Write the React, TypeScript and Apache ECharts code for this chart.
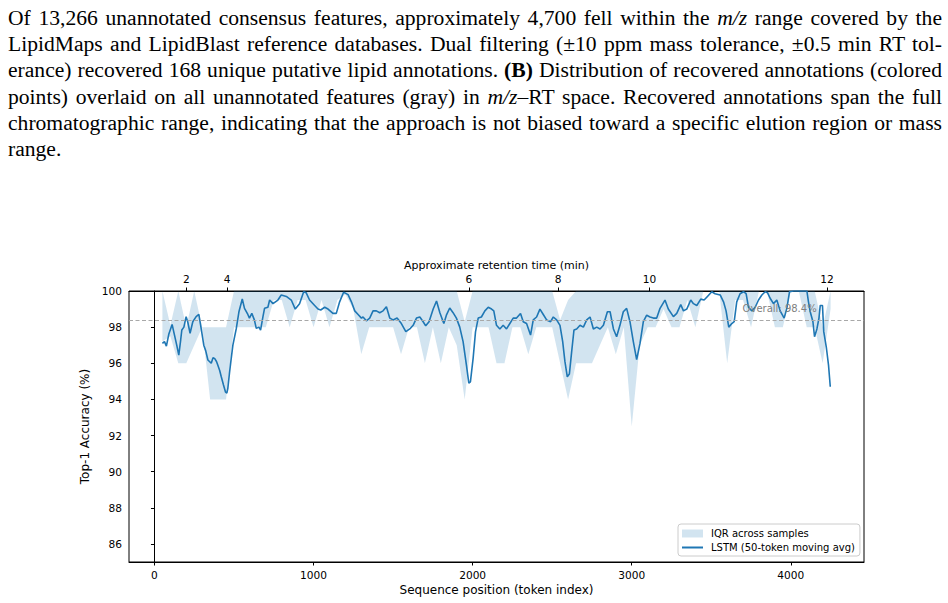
import React, { useEffect, useRef } from 'react';
import * as echarts from 'echarts';

// ---- IQR band (sampled every 50 tokens) ----
const bandTokens = [
  50, 100, 150, 200, 250, 300, 350, 400, 450, 500,
  550, 600, 650, 700, 750, 800, 850, 900, 950, 1000,
  1050, 1100, 1150, 1200, 1250, 1300, 1350, 1400, 1450, 1500,
  1550, 1600, 1650, 1700, 1750, 1800, 1850, 1900, 1950, 2000,
  2050, 2100, 2150, 2200, 2250, 2300, 2350, 2400, 2450, 2500,
  2550, 2600, 2650, 2700, 2750, 2800, 2850, 2900, 2950, 3000,
  3050, 3100, 3150, 3200, 3250, 3300, 3350, 3400, 3450, 3500,
  3550, 3600, 3650, 3700, 3750, 3800, 3850, 3900, 3950, 4000,
  4050, 4100, 4150, 4200, 4250,
];
const bandLower = [
  97.2, 97.5, 96, 96, 97, 98, 94, 94, 94, 98,
  98, 98, 98, 98, 99.5, 99.5, 98, 99.5, 99.5, 98,
  99.5, 98, 99.5, 99.8, 99, 96.5, 98, 98, 98, 98,
  96.5, 98, 98, 96, 98, 96, 98, 97, 94, 98,
  98, 98, 96, 96, 98, 98, 96.5, 98, 98, 98,
  96, 94, 96, 96, 96, 97, 98, 96.5, 98, 92.5,
  97, 98, 98, 99, 98, 98, 99.5, 98, 100, 100,
  100, 96, 99.5, 99.5, 98, 100, 100, 98, 98, 100,
  100, 98, 98, 96, 99,
];
const bandUpper = [
  100, 98.1, 100, 98, 100, 98, 98, 98, 98, 100,
  100, 100, 100, 100, 100, 100, 100, 100, 100, 100,
  100, 100, 100, 100, 100, 100, 100, 100, 100, 100,
  100, 100, 100, 100, 100, 100, 100, 100, 98.3, 100,
  100, 100, 100, 100, 100, 100, 100, 100, 100, 100,
  98.4, 99.5, 100, 100, 100, 100, 100, 100, 100, 100,
  100, 100, 100, 100, 100, 100, 100, 100, 100, 100,
  100, 100, 100, 100, 100, 100, 100, 100, 100, 100,
  100, 100, 100, 98, 100,
];

// ---- LSTM 50-token moving average ----
const lineTokens = [
  50, 63, 75, 90, 111, 126, 140, 153, 165, 172, 185, 199, 209, 224, 241, 262, 279, 294, 310, 322,
  336, 357, 368, 378, 390, 398, 410, 420, 434, 447, 455, 461, 472, 483, 493, 514, 531, 552, 566, 587,
  597, 612, 628, 640, 657, 667, 682, 692, 713, 724, 745, 776, 797, 829, 860, 885, 912, 938, 954, 975,
  1007, 1028, 1045, 1070, 1091, 1122, 1143, 1164, 1189, 1217, 1238, 1259, 1280, 1301, 1311, 1332, 1353, 1374, 1395, 1416,
  1437, 1458, 1479, 1500, 1525, 1552, 1580, 1605, 1626, 1647, 1668, 1689, 1705, 1726, 1752, 1773, 1794, 1819, 1835, 1856,
  1877, 1898, 1919, 1940, 1961, 1976, 1986, 2003, 2018, 2035, 2055, 2077, 2098, 2119, 2133, 2150, 2171, 2192, 2213, 2234,
  2255, 2276, 2301, 2318, 2339, 2364, 2381, 2402, 2423, 2444, 2465, 2490, 2507, 2528, 2549, 2566, 2580, 2595, 2608, 2622,
  2637, 2654, 2675, 2696, 2717, 2738, 2759, 2780, 2801, 2822, 2847, 2864, 2885, 2905, 2926, 2947, 2968, 2989, 3010, 3031,
  3052, 3073, 3094, 3115, 3136, 3157, 3178, 3209, 3230, 3262, 3283, 3308, 3325, 3346, 3371, 3388, 3409, 3434, 3455, 3476,
  3503, 3524, 3556, 3577, 3593, 3610, 3629, 3644, 3660, 3681, 3702, 3719, 3734, 3755, 3776, 3797, 3818, 3839, 3854, 3870,
  3891, 3912, 3933, 3958, 3975, 3992, 4017, 4050, 4101, 4111, 4122, 4139, 4149, 4164, 4177, 4185, 4199, 4207, 4223, 4237,
  4248,
];
const lineValues = [
  97.1, 97.2, 96.95, 97.6, 98.15, 97.56, 97.0, 96.45, 97.3, 97.84, 98.0, 98.58, 98.3, 97.66, 98.3, 98.58, 98.7, 97.9, 97.0, 96.7,
  96.18, 96.0, 96.3, 96.27, 96.1, 95.9, 95.6, 95.25, 94.8, 94.4, 94.35, 94.6, 95.5, 96.3, 97.0, 97.9, 98.85, 99.56, 99.04, 98.7,
  98.5, 98.76, 98.4, 97.93, 98.0, 97.84, 98.58, 99.04, 99.1, 99.5, 99.3, 99.5, 99.78, 99.7, 99.5, 99.0, 99.3, 99.96, 99.9, 99.5,
  99.2, 99.0, 98.95, 99.1, 99.0, 98.76, 98.76, 99.4, 99.93, 99.8, 99.4, 98.9, 98.7, 98.5, 98.56, 98.35, 98.5, 98.9, 98.9, 98.8,
  98.9, 99.13, 98.5, 98.4, 98.5, 98.2, 97.75, 97.9, 98.1, 98.5, 98.56, 98.3, 98.07, 98.3, 99.0, 99.45, 98.8, 98.2, 98.66, 99.06,
  98.8, 98.5, 98.0, 97.2, 95.9, 94.9, 94.97, 96.27, 97.74, 98.5, 98.56, 98.9, 99.1, 99.0, 98.9, 98.1, 97.9, 98.1, 97.9, 98.2,
  98.5, 98.5, 98.76, 98.3, 98.2, 97.56, 98.4, 98.56, 99.0, 98.7, 98.4, 98.3, 98.56, 98.4, 98.1, 97.2, 96.1, 95.25, 95.4, 96.6,
  97.84, 97.9, 98.1, 98.0, 98.4, 98.56, 97.9, 98.0, 97.9, 98.1, 98.85, 98.85, 97.9, 97.47, 98.1, 98.85, 99.04, 98.3, 97.2, 96.2,
  97.1, 98.3, 98.66, 98.56, 98.5, 98.5, 99.04, 99.5, 99.0, 98.58, 98.76, 99.25, 98.9, 99.0, 99.5, 99.3, 99.2, 99.55, 99.5, 99.7,
  99.96, 99.85, 99.78, 99.4, 98.9, 98.0, 98.2, 98.3, 99.4, 99.85, 99.96, 99.85, 99.1, 98.9, 99.1, 99.5, 99.78, 99.96, 99.9, 99.6,
  99.3, 99.5, 98.9, 98.5, 99.04, 99.96, 100, 100, 100, 99.4, 98.85, 98.3, 97.47, 97.9, 98.5, 99.2, 99.2, 97.75, 96.9, 95.9,
  94.7,
];

// ---- axes ----
const xTicks = [0, 1000, 2000, 3000, 4000];
const yTicks = [86, 88, 90, 92, 94, 96, 98, 100];
const rtTickTokens = [201, 457, 1976, 2538, 3111, 4227];
const rtTickLabels = ['2', '4', '6', '8', '10', '12'];
const overallAccuracy = 98.4;
const overallLabelAt = [3697, 99.05];

const FONT = 'DejaVu Sans';
const BLUE = '#1f77b4';
const BAND = 'rgba(31,119,180,0.2)';
const TICK_FS = 10.6;
const TOP_NAME_FS = 11;
const NAME_FS = 12;

function Chart() {
  const ref = useRef<HTMLDivElement>(null);
  useEffect(() => {
    const chart = echarts.init(ref.current!, null, { renderer: 'svg' });
    const lineData = lineTokens.map((t, i) => [t, lineValues[i]]);
    const axisCommon = {
      type: 'value',
      min: -160,
      max: 4460,
      splitLine: { show: false },
      axisLine: { show: true, lineStyle: { color: '#000', width: 1 } },
    };
    chart.setOption({
      animation: false,
      textStyle: { fontFamily: FONT },
      grid: {
        left: 129, top: 291, width: 735, height: 271,
        show: true, borderColor: '#000', borderWidth: 1, backgroundColor: 'transparent',
        containLabel: false,
      },
      xAxis: [
        {
          ...axisCommon,
          position: 'bottom',
          axisTick: { show: true, inside: false, length: 3.5, customValues: xTicks, lineStyle: { color: '#000', width: 1 } },
          axisLabel: {
            customValues: xTicks, margin: 7, fontSize: TICK_FS, color: '#000', fontFamily: FONT,
            formatter: (v: number) => String(v),
          },
          name: 'Sequence position (token index)',
          nameLocation: 'middle',
          nameGap: 22,
          nameTextStyle: { fontSize: NAME_FS, color: '#000', fontFamily: FONT },
        },
        {
          ...axisCommon,
          position: 'top',
          axisTick: { show: true, inside: false, length: 3.5, customValues: rtTickTokens, lineStyle: { color: '#000', width: 1 } },
          axisLabel: {
            customValues: rtTickTokens,
            margin: 7,
            fontSize: TICK_FS,
            color: '#000',
            fontFamily: FONT,
            formatter: (v: number) => {
              const idx = rtTickTokens.indexOf(v);
              return idx >= 0 ? rtTickLabels[idx] : '';
            },
          },
          name: 'Approximate retention time (min)',
          nameLocation: 'middle',
          nameGap: 20,
          nameTextStyle: { fontSize: TOP_NAME_FS, color: '#000', fontFamily: FONT },
        },
      ],
      yAxis: {
        type: 'value',
        min: 85,
        max: 100,
        splitLine: { show: false },
        axisLine: { show: true, lineStyle: { color: '#000', width: 1 } },
        axisTick: { show: true, inside: false, length: 3.5, customValues: yTicks, lineStyle: { color: '#000', width: 1 } },
        axisLabel: {
          customValues: yTicks, margin: 7, fontSize: TICK_FS, color: '#000', fontFamily: FONT,
          formatter: (v: number) => String(v),
        },
        name: 'Top-1 Accuracy (%)',
        nameLocation: 'middle',
        nameRotate: 90,
        nameGap: 27,
        nameTextStyle: { fontSize: NAME_FS, color: '#000', fontFamily: FONT },
      },
      legend: {
        orient: 'vertical',
        left: 678,
        top: 524,
        padding: [4, 5, 3, 3],
        itemGap: 3,
        itemWidth: 21,
        itemHeight: 8,
        backgroundColor: 'rgba(255,255,255,0.8)',
        borderColor: '#cccccc',
        borderWidth: 1,
        borderRadius: 3,
        selectedMode: false,
        textStyle: { fontFamily: FONT, fontSize: 10, color: '#000', padding: [0, 0, 0, 3], lineHeight: 11 },
        data: [
          { name: 'IQR across samples', icon: 'rect', itemStyle: { color: BAND, borderWidth: 0 } },
          { name: 'LSTM (50-token moving avg)', itemStyle: { opacity: 0 } },
        ],
      },
      series: [
        {
          name: 'IQR across samples',
          type: 'custom',
          xAxisIndex: 0,
          data: [[bandTokens[0], bandLower[0]]],
          silent: true,
          clip: true,
          z: 1,
          itemStyle: { color: BAND },
          encode: { x: 0, y: 1 },
          renderItem: (_params: any, api: any) => {
            const pts: number[][] = [];
            for (let i = 0; i < bandTokens.length; i++) pts.push(api.coord([bandTokens[i], bandUpper[i]]));
            for (let i = bandTokens.length - 1; i >= 0; i--) pts.push(api.coord([bandTokens[i], bandLower[i]]));
            return {
              type: 'polygon',
              shape: { points: pts },
              style: { fill: BAND, stroke: 'none' },
            };
          },
        },
        {
          name: 'overall',
          type: 'line',
          xAxisIndex: 0,
          data: [],
          silent: true,
          z: 2,
          markLine: {
            silent: true,
            symbol: 'none',
            label: { show: false },
            lineStyle: { color: '#a8a8a8', type: [4, 2.5], width: 1 },
            data: [{ yAxis: overallAccuracy }],
          },
          markPoint: {
            silent: true,
            symbol: 'circle',
            symbolSize: 0,
            label: {
              show: true,
              position: 'right',
              distance: 0,
              formatter: 'Overall: ' + overallAccuracy + '%',
              color: '#808080',
              fontSize: 10,
              fontFamily: FONT,
            },
            data: [{ coord: overallLabelAt }],
          },
        },
        {
          name: 'LSTM (50-token moving avg)',
          type: 'line',
          xAxisIndex: 0,
          data: lineData,
          symbol: 'none',
          showSymbol: false,
          lineStyle: { color: BLUE, width: 1.6 },
          itemStyle: { color: BLUE },
          z: 3,
        },
      ],
    });
    return () => chart.dispose();
  }, []);
  return <div ref={ref} style={{ position: 'absolute', left: 0, top: 0, width: 948, height: 603 }} />;
}

const lineStyleBase: React.CSSProperties = {
  position: 'absolute',
  left: 8,
  width: 934,
  fontFamily: '"Liberation Serif", "Times New Roman", serif',
  fontSize: 21.6,
  lineHeight: '26px',
  color: '#000',
  textAlign: 'justify',
  textAlignLast: 'justify',
  whiteSpace: 'normal',
};
const baselines = [25, 51.3, 77.6, 103.9, 130.2, 156.5];
const topOf = (i: number) => baselines[i] - 20.3;

function Paragraph() {
  return (
    <>
      <div style={{ ...lineStyleBase, top: topOf(0) }}>
        Of 13,266 unannotated consensus features, approximately 4,700 fell within the <i>m/z</i> range covered by the
      </div>
      <div style={{ ...lineStyleBase, top: topOf(1) }}>
        LipidMaps and LipidBlast reference databases. Dual filtering (±10 ppm mass tolerance, ±0.5 min RT tol-
      </div>
      <div style={{ ...lineStyleBase, top: topOf(2) }}>
        erance) recovered 168 unique putative lipid annotations. <b>(B)</b> Distribution of recovered annotations (colored
      </div>
      <div style={{ ...lineStyleBase, top: topOf(3) }}>
        points) overlaid on all unannotated features (gray) in <i>m/z</i>–RT space. Recovered annotations span the full
      </div>
      <div style={{ ...lineStyleBase, top: topOf(4) }}>
        chromatographic range, indicating that the approach is not biased toward a specific elution region or mass
      </div>
      <div style={{ ...lineStyleBase, top: topOf(5), textAlign: 'left', textAlignLast: 'left' }}>
        range.
      </div>
    </>
  );
}

export default function App() {
  return (
    <div style={{ position: 'absolute', left: 0, top: 0, width: 948, height: 603, overflow: 'hidden', background: '#fff' }}>
      <Chart />
      <Paragraph />
    </div>
  );
}
